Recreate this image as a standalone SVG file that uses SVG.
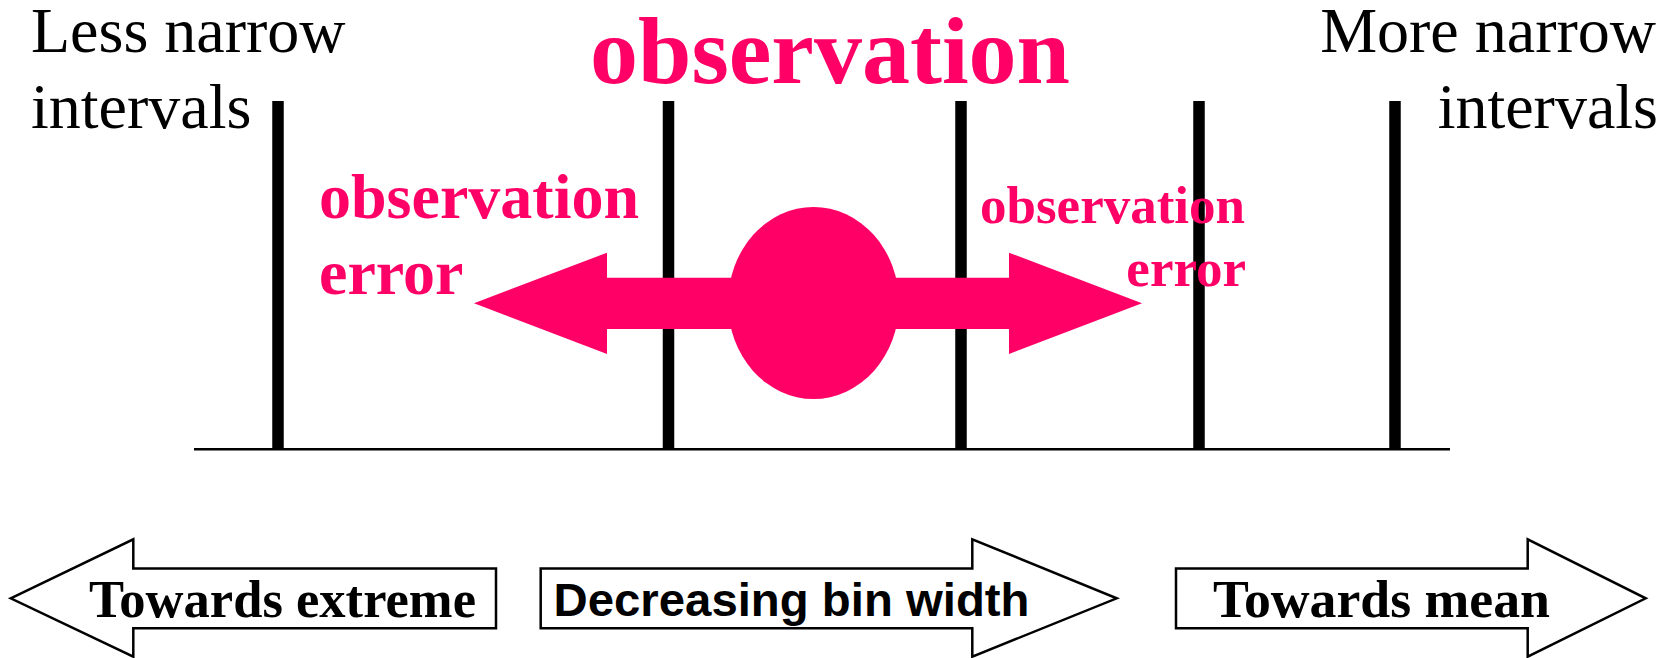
<svg xmlns="http://www.w3.org/2000/svg" width="1669" height="658" viewBox="0 0 1669 658">
  <style>
    .serif { font-family: "Liberation Serif", "Times New Roman", serif; }
    .lbl { font-size: 64px; fill: #000; }
    .pink { fill: #FF0066; font-weight: bold; }
    .bar { stroke: #000; stroke-width: 11.5; }
    .base { stroke: #000; stroke-width: 2.5; }
    .barrow { fill: #fff; stroke: #000; stroke-width: 2.5; stroke-linejoin: miter; }
    .btxt { font-size: 52px; font-weight: bold; fill: #000; }
    .bsans { font-family: "Liberation Sans", Arial, sans-serif; font-size: 47px; font-weight: bold; fill: #000; }
  </style>
  <rect width="1669" height="658" fill="#fff"/>

  <g id="axis">
    <line class="base" x1="194" y1="449.3" x2="1450" y2="449.3"/>
    <line class="bar" x1="278" y1="101" x2="278" y2="449"/>
    <line class="bar" x1="668.5" y1="101" x2="668.5" y2="449"/>
    <line class="bar" x1="961" y1="101" x2="961" y2="449"/>
    <line class="bar" x1="1199" y1="101" x2="1199" y2="449"/>
    <line class="bar" x1="1395" y1="101" x2="1395" y2="449"/>
  </g>

  <g id="labels-top">
    <text class="serif lbl" x="31" y="52">Less narrow</text>
    <text class="serif lbl" x="31" y="128">intervals</text>
    <text class="serif lbl" x="1656" y="52" text-anchor="end">More narrow</text>
    <text class="serif lbl" x="1658" y="128" text-anchor="end">intervals</text>
  </g>

  <g id="observation">
    <text class="serif pink" x="830" y="83" font-size="96" text-anchor="middle">observation</text>
    <polygon fill="#FF0066" points="474,303.3 607,252.7 607,277.7 1009,277.7 1009,252.7 1142,303.3 1009,354 1009,329 607,329 607,354"/>
    <ellipse cx="813.5" cy="303" rx="85.5" ry="96" fill="#FF0066"/>
  </g>

  <g id="error-left">
    <text class="serif pink" x="319" y="218" font-size="64">observation</text>
    <text class="serif pink" x="319" y="294" font-size="64">error</text>
  </g>

  <g id="error-right">
    <text class="serif pink" x="980" y="223" font-size="53">observation</text>
    <text class="serif pink" x="1246" y="286" font-size="53" text-anchor="end">error</text>
  </g>

  <g id="towards-extreme">
    <polygon class="barrow" points="10.7,598.3 133.3,539.3 133.3,568.5 496,568.5 496,628.3 133.3,628.3 133.3,656.7"/>
    <text class="serif btxt" x="89" y="617" textLength="387" lengthAdjust="spacingAndGlyphs">Towards extreme</text>
  </g>

  <g id="decreasing-bin-width">
    <polygon class="barrow" points="540.7,568.5 972.3,568.5 972.3,539.3 1116.7,598.3 972.3,656.7 972.3,628.3 540.7,628.3"/>
    <text class="bsans" x="553.5" y="616" textLength="476" lengthAdjust="spacingAndGlyphs">Decreasing bin width</text>
  </g>

  <g id="towards-mean">
    <polygon class="barrow" points="1176,568.5 1527.7,568.5 1527.7,539.3 1645.7,598.3 1527.7,656.7 1527.7,628.3 1176,628.3"/>
    <text class="serif btxt" x="1213" y="617" textLength="337" lengthAdjust="spacingAndGlyphs">Towards mean</text>
  </g>
</svg>
